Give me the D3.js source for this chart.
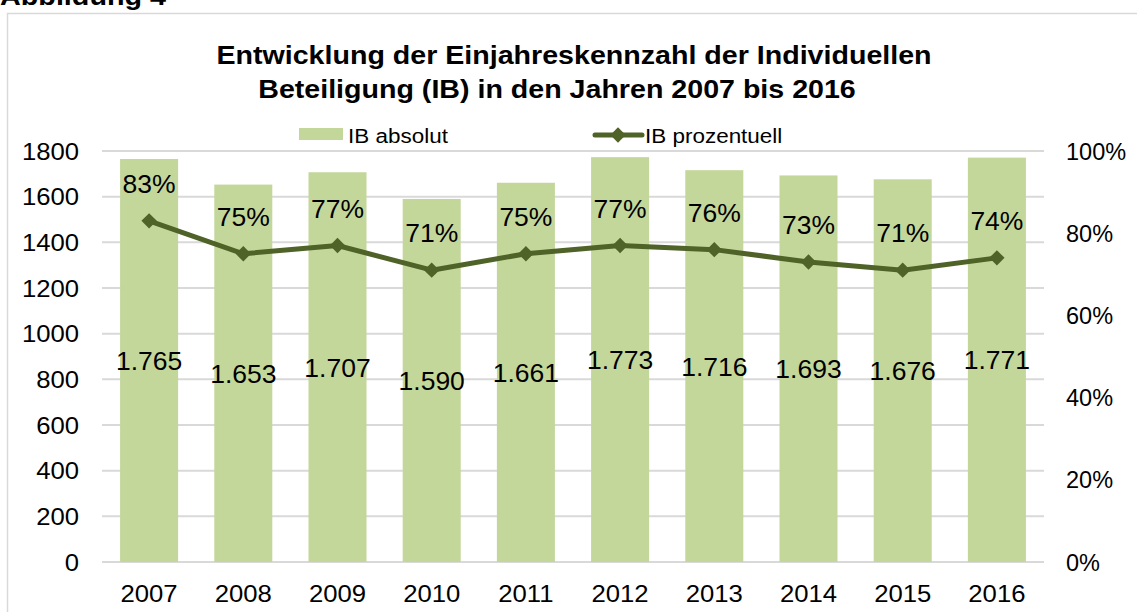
<!DOCTYPE html>
<html>
<head>
<meta charset="utf-8">
<script src="https://cdn.jsdelivr.net/npm/d3@7"></script>
<style>
  html, body { margin: 0; padding: 0; background: #fff; }
  svg { display: block; font-family: "Liberation Sans", Arial, sans-serif; }
</style>
</head>
<body>
<div id="chart"></div>
<script>

var years = ['2007', '2008', '2009', '2010', '2011', '2012', '2013', '2014', '2015', '2016'];
var ibAbsolut = [1765, 1653, 1707, 1590, 1661, 1773, 1716, 1693, 1676, 1771];
var ibProzent = [83, 75, 77, 71, 75, 77, 76, 73, 71, 74];
var leftTicks = [0, 200, 400, 600, 800, 1000, 1200, 1400, 1600, 1800];
var rightTicks = [0, 20, 40, 60, 80, 100];
var titleLines = ['Entwicklung der Einjahreskennzahl der Individuellen',
                  'Beteiligung (IB) in den Jahren 2007 bis 2016'];
var seriesNames = ['IB absolut', 'IB prozentuell'];

var W = 1137, H = 612;
var barColor = '#c4d79b';
var lineColor = '#4f6228';
var gridColor = '#d9d9d9';

var svg = d3.select('#chart')
    .append('svg')
    .attr('width', W)
    .attr('height', H);

// text with a horizontal stretch, the reference glyphs are a bit wide
var addText = function(sel, x, y, str, size, sx, anchor, weight) {
	return sel.append('text')
		.attr('transform', 'translate(' + x + ',' + y + ') scale(' + sx + ',1)')
		.attr('font-size', size)
		.attr('font-weight', weight || 'normal')
		.attr('text-anchor', anchor || 'start')
		.attr('fill', '#000')
		.text(str);
}

addText(svg, 0, 5, 'Abbildung 4', 25, 1.15, 'start', 'bold');

// chart frame
svg.append('rect')
    .attr('x', 7.5)
    .attr('y', 13.5)
    .attr('width', W)
    .attr('height', H)
    .attr('fill', 'none')
    .attr('stroke', gridColor)
    .attr('stroke-width', 1.5);

addText(svg, 574, 64, titleLines[0], 26, 1.1, 'middle', 'bold');
addText(svg, 557, 98, titleLines[1], 26, 1.1, 'middle', 'bold');

var x = d3.scaleBand()
    .domain(years)
    .range([102, 1044])
    .paddingInner(0.384)
    .paddingOuter(0.192);

var yL = d3.scaleLinear().domain([0, 1800]).range([562, 151]);
var yR = d3.scaleLinear().domain([0, 100]).range([562, 151]);

// gridlines
svg.append('g')
    .selectAll('line')
    .data(leftTicks)
    .enter()
    .append('line')
    .attr('x1', 102)
    .attr('x2', 1044)
    .attr('y1', function(d) { return yL(d); })
    .attr('y2', function(d) { return yL(d); })
    .attr('stroke', gridColor)
    .attr('stroke-width', 2);

// left axis labels
var gl = svg.append('g');
leftTicks.forEach(function(t) {
	addText(gl, 79, yL(t) + 8.5, String(t), 24, 1.07, 'end');
});

// right axis labels
var gr = svg.append('g');
rightTicks.forEach(function(t) {
	addText(gr, 1066, yR(t) + 8.5, t + '%', 23.5, 1.0, 'start');
});

// year labels
var gx = svg.append('g');
years.forEach(function(yr) {
	addText(gx, x(yr) + x.bandwidth() / 2, 602, yr, 24, 1.07, 'middle');
});

// bars
svg.append('g')
    .selectAll('rect')
    .data(ibAbsolut)
    .enter()
    .append('rect')
    .attr('x', function(d, i) { return x(years[i]); })
    .attr('y', function(d) { return yL(d); })
    .attr('width', x.bandwidth())
    .attr('height', function(d) { return yL(0) - yL(d); })
    .attr('fill', barColor);

// line
var line = d3.line()
    .x(function(d, i) { return x(years[i]) + x.bandwidth() / 2; })
    .y(function(d) { return yR(d); });

svg.append('path')
    .datum(ibProzent)
    .attr('d', line)
    .attr('fill', 'none')
    .attr('stroke', lineColor)
    .attr('stroke-width', 5)
    .attr('stroke-linejoin', 'round');

var diamond = d3.symbol().type(d3.symbolDiamond2).size(150);

svg.append('g')
    .selectAll('path')
    .data(ibProzent)
    .enter()
    .append('path')
    .attr('d', diamond)
    .attr('transform', function(d, i) {
    	return 'translate(' + (x(years[i]) + x.bandwidth() / 2) + ',' + yR(d) + ')';
    })
    .attr('fill', lineColor);

// data labels
var gd = svg.append('g');
ibAbsolut.forEach(function(v, i) {
	var cx = x(years[i]) + x.bandwidth() / 2;
	var mid = (yL(v) + yL(0)) / 2;
	addText(gd, cx, mid + 9.5, d3.format(',')(v).replace(',', '.'), 26.5, 1.0, 'middle');
	addText(gd, cx, yR(ibProzent[i]) - 28, ibProzent[i] + '%', 26.5, 1.0, 'middle');
});

// legend
var leg = svg.append('g');
leg.append('rect')
    .attr('x', 299)
    .attr('y', 128)
    .attr('width', 44)
    .attr('height', 12)
    .attr('fill', barColor);
addText(leg, 348, 143, seriesNames[0], 21, 1.07, 'start');

leg.append('line')
    .attr('x1', 595)
    .attr('x2', 642)
    .attr('y1', 135)
    .attr('y2', 135)
    .attr('stroke', lineColor)
    .attr('stroke-width', 5)
    .attr('stroke-linecap', 'round');
leg.append('path')
    .attr('d', diamond)
    .attr('transform', 'translate(618,135)')
    .attr('fill', lineColor);
addText(leg, 645, 143, seriesNames[1], 21, 1.07, 'start');

</script>
</body>
</html>
